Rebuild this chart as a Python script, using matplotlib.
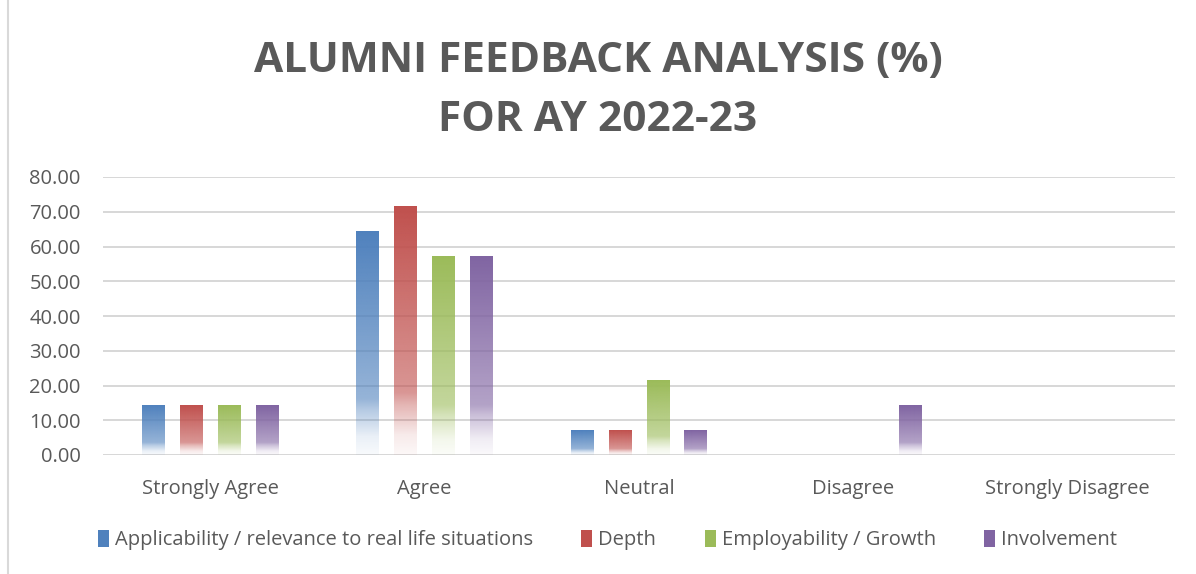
import numpy as np
import matplotlib
matplotlib.use("Agg")
import matplotlib.pyplot as plt
from matplotlib.colors import to_rgb
from matplotlib.patches import Patch

categories = ["Strongly Agree", "Agree", "Neutral", "Disagree", "Strongly Disagree"]
series_names = ["Applicability / relevance to real life situations", "Depth",
                "Employability / Growth", "Involvement"]
applicability = [14.29, 64.29, 7.14, 0.00, 0.00]
depth = [14.29, 71.43, 7.14, 0.00, 0.00]
employability = [14.29, 57.14, 21.43, 0.00, 0.00]
involvement = [14.29, 57.14, 7.14, 14.29, 0.00]
colors = ["#4F81BD", "#C0504D", "#9BBB59", "#8064A2"]

plt.rcParams['font.family'] = ['Open Sans', 'DejaVu Sans']
grey = "#595959"

fig = plt.figure(figsize=(11.96, 5.74), dpi=100)
ax = fig.add_axes([103 / 1196, 1 - 455 / 574, 1072 / 1196, 278 / 574])

# vertical gradient alpha profile (bottom -> top)
t = np.linspace(0, 1, 200)
alpha = np.interp(t, [0, 0.08, 0.2, 0.25, 1.0], [0.04, 0.12, 0.42, 0.6, 1.0])


def gradient_bar(ax, x, w, h, color):
    if h <= 0:
        return
    rgb = np.array(to_rgb(color))
    img = np.zeros((len(t), 1, 4))
    img[:, 0, :3] = rgb
    img[:, 0, 3] = alpha
    ax.imshow(img, extent=(x - w / 2, x + w / 2, 0, h), origin="lower",
              aspect="auto", interpolation="bilinear", zorder=3)


x = np.arange(len(categories))
width = 0.107
step = 0.177
all_series = [applicability, depth, employability, involvement]
for i, (vals, c) in enumerate(zip(all_series, colors)):
    offset = (i - 1.5) * step
    for xi, v in zip(x, vals):
        gradient_bar(ax, xi + offset, width, v, c)

ax.set_xlim(-0.5, len(categories) - 0.5)
ax.set_ylim(0, 80)
ax.set_yticks(np.arange(0, 81, 10))
ax.set_yticklabels([f"{v:.2f}" for v in np.arange(0, 81, 10)])
ax.set_xticks(x)
ax.set_xticklabels(categories)
ax.grid(axis="y", color="#D4D4D4", linewidth=1.3, zorder=0)
ax.set_axisbelow(True)
for s in ax.spines.values():
    s.set_visible(False)
ax.tick_params(axis="both", length=0, labelsize=14.5, labelcolor=grey)
ax.tick_params(axis="x", pad=17)
ax.tick_params(axis="y", pad=16)

fig.text(0.5, 1 - 62 / 574, "ALUMNI FEEDBACK ANALYSIS (%)", ha="center", va="center",
         fontsize=30.5, fontweight="bold", color=grey)
fig.text(0.5, 1 - 120 / 574, "FOR AY 2022-23", ha="center", va="center",
         fontsize=30.5, fontweight="bold", color=grey)

handles = [Patch(facecolor=c, edgecolor="none") for c in colors]
fig.legend(handles, series_names, loc="center", bbox_to_anchor=(0.508, 1 - 540 / 574),
           ncol=4, frameon=False, fontsize=14.5, labelcolor=grey,
           handlelength=0.55, handleheight=0.9, handletextpad=0.3, columnspacing=2.4)

fig.add_artist(plt.Line2D([8 / 1196, 8 / 1196], [0, 1], color="#D9D9D9", linewidth=1.5))

fig.savefig("out.png", dpi=100, facecolor="white")
